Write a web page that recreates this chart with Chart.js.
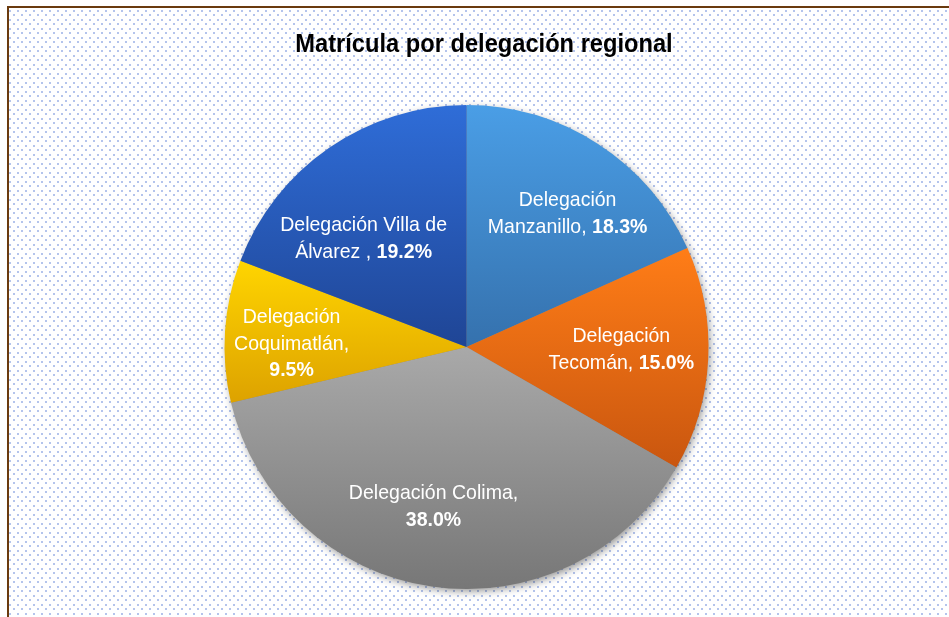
<!DOCTYPE html>
<html>
<head>
<meta charset="utf-8">
<script src="https://cdn.jsdelivr.net/npm/chart.js@4.4.0/dist/chart.umd.min.js"></script>
<style>
html, body { margin: 0; padding: 0; background: #fff; }
#wrap { width: 949px; height: 617px; }
</style>
</head>
<body>
<div id="wrap"><canvas id="myChart"></canvas></div>
<script>
// data
const chartTitle = 'Matrícula por delegación regional';
const categories = ['Delegación Manzanillo', 'Delegación Tecomán', 'Delegación Colima', 'Delegación Coquimatlán', 'Delegación Villa de Álvarez '];
const values = [18.3, 15.0, 38.0, 9.5, 19.2];
// label text split in lines, the bold percentage goes after the last line
const labelLines = [
  ['Delegación', 'Manzanillo, '],
  ['Delegación', 'Tecomán, '],
  ['Delegación Colima,', ''],
  ['Delegación', 'Coquimatlán,', ''],
  ['Delegación Villa de', 'Álvarez , ']
];

// styles
const topColors = ['#4a9ee6', '#ff7d17', '#a9a9a9', '#ffd500', '#2f6dd8'];
const bottomColors = ['#3571ad', '#c9560f', '#777777', '#dda200', '#1f4595'];
// [radius fraction, angle shift in degrees]
const labelPlace = [[0.692, 4.2], [0.64, -1.8], [0.673, 3.4], [0.723, -2.8], [0.617, -9.0]];
const FONT = "'Liberation Sans', Arial, sans-serif";
const SQUEEZE = 0.91; // narrow look of the original font

function drawSqueezed(ctx, txt, x, y, sq) {
  ctx.save();
  ctx.translate(x, y);
  ctx.scale(sq, 1);
  ctx.fillText(txt, 0, 0);
  ctx.restore();
}

const backgroundPlugin = {
  id: 'dottedBack',
  beforeDraw(chart) {
    const ctx = chart.ctx;
    const w = chart.width, h = chart.height;
    ctx.save();
    ctx.fillStyle = '#ffffff';
    ctx.fillRect(0, 0, w, h);
    // dotted pattern
    const tile = document.createElement('canvas');
    tile.width = 8; tile.height = 9;
    const tc = tile.getContext('2d');
    tc.fillStyle = '#b4c4ec';
    tc.fillRect(1, 1, 2, 2);
    tc.fillRect(5, 5, 2, 2);
    ctx.fillStyle = ctx.createPattern(tile, 'repeat');
    ctx.fillRect(9, 8, w - 9, h - 8);
    // brown frame on left and top
    ctx.fillStyle = '#6a3a0e';
    ctx.fillRect(7, 6, w - 7, 2);
    ctx.fillRect(7, 6, 2, h - 6);
    // title
    ctx.fillStyle = '#000';
    ctx.font = 'bold 26px ' + FONT;
    ctx.textBaseline = 'alphabetic';
    const tw = ctx.measureText(chartTitle).width * SQUEEZE;
    drawSqueezed(ctx, chartTitle, w / 2 + 9.5 - tw / 2, 52, SQUEEZE);
    ctx.restore();
  },
  beforeDatasetsDraw(chart) {
    const meta = chart.getDatasetMeta(0);
    const el0 = meta.data[0];
    if (!el0) return;
    const ctx = chart.ctx;
    // soft shadow under the pie
    ctx.save();
    ctx.shadowColor = 'rgba(0,0,0,0.45)';
    ctx.shadowBlur = 9;
    ctx.shadowOffsetX = 2;
    ctx.shadowOffsetY = 3;
    ctx.fillStyle = '#888';
    ctx.beginPath();
    ctx.arc(el0.x, el0.y, el0.outerRadius - 1, 0, Math.PI * 2);
    ctx.fill();
    ctx.restore();
    // gradient from the top to the bottom of each slice
    meta.data.forEach(function (el, i) {
      let minY = el.y, maxY = el.y;
      for (let k = 0; k <= 60; k++) {
        const a = el.startAngle + (el.endAngle - el.startAngle) * k / 60;
        const py = el.y + Math.sin(a) * el.outerRadius;
        minY = Math.min(minY, py);
        maxY = Math.max(maxY, py);
      }
      const g = ctx.createLinearGradient(0, minY, 0, maxY);
      g.addColorStop(0, topColors[i]);
      g.addColorStop(1, bottomColors[i]);
      el.options.backgroundColor = g;
    });
  }
};

const labelPlugin = {
  id: 'sliceLabels',
  afterDatasetsDraw(chart) {
    const ctx = chart.ctx;
    const meta = chart.getDatasetMeta(0);
    const lineH = 26.5;
    const sq = 0.93;
    ctx.save();
    ctx.fillStyle = '#ffffff';
    ctx.textBaseline = 'middle';
    ctx.textAlign = 'left';
    meta.data.forEach(function (el, i) {
      const mid = (el.startAngle + el.endAngle) / 2 + labelPlace[i][1] * Math.PI / 180;
      const r = el.outerRadius * labelPlace[i][0];
      const cx = el.x + Math.cos(mid) * r;
      const cy = el.y + Math.sin(mid) * r;
      const lines = labelLines[i];
      const pct = values[i].toFixed(1) + '%';
      const y0 = cy - (lines.length - 1) * lineH / 2;
      lines.forEach(function (txt, j) {
        const last = j === lines.length - 1;
        ctx.font = '21px ' + FONT;
        const w1 = ctx.measureText(txt).width * sq;
        ctx.font = 'bold 21px ' + FONT;
        const w2 = last ? ctx.measureText(pct).width * sq : 0;
        const x = cx - (w1 + w2) / 2;
        const y = y0 + j * lineH;
        ctx.font = '21px ' + FONT;
        drawSqueezed(ctx, txt, x, y, sq);
        if (last) {
          ctx.font = 'bold 21px ' + FONT;
          drawSqueezed(ctx, pct, x + w1, y, sq);
        }
      });
    });
    ctx.restore();
  }
};

const ctx = document.getElementById('myChart').getContext('2d');
const myPieChart = new Chart(ctx, {
  type: 'pie',
  data: {
    labels: categories,
    datasets: [{
      data: values,
      backgroundColor: topColors,
      borderWidth: 0
    }]
  },
  options: {
    responsive: true,
    maintainAspectRatio: false,
    animation: false,
    layout: {
      padding: { top: 105, bottom: 28, left: 0, right: 16 }
    },
    plugins: {
      legend: { display: false },
      tooltip: { enabled: false },
      title: { display: false }
    }
  },
  plugins: [backgroundPlugin, labelPlugin]
});
</script>
</body>
</html>
